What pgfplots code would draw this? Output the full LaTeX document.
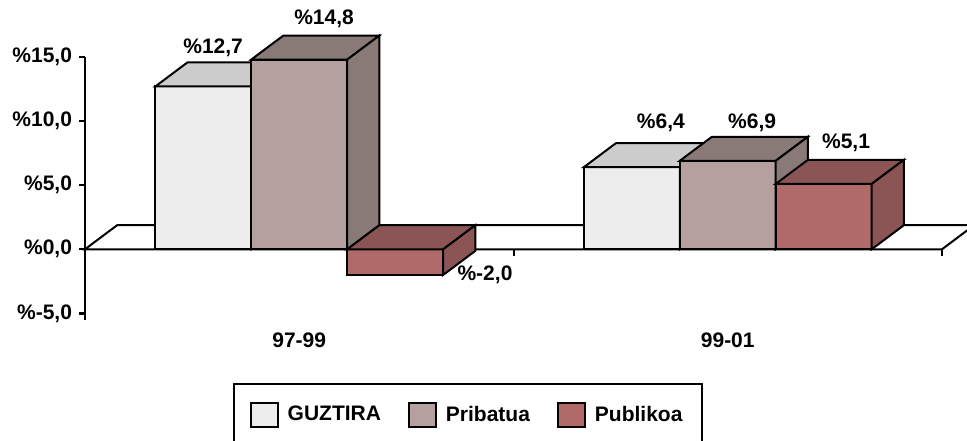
\documentclass[border=0pt]{standalone}
\usepackage{pgfplots}
\pgfplotsset{compat=1.18}
\usepackage{fontspec}
\setmainfont{Liberation Sans}
\definecolor{gF}{HTML}{EDEDED}
\definecolor{gT}{HTML}{CCCCCC}
\definecolor{gS}{HTML}{9A9A9A}
\definecolor{pF}{HTML}{B4A09F}
\definecolor{pT}{HTML}{8A7A77}
\definecolor{uF}{HTML}{B06A6A}
\definecolor{uT}{HTML}{8B5555}
\newcommand{\lf}{\bfseries\fontsize{10.5bp}{12.6bp}\selectfont}
\pgfplotsset{
  face/.style={draw=black, line width=1bp, line join=miter, forget plot},
  front/.style={ybar, bar width=0.224, draw=black, line width=1bp, forget plot},
}
\begin{document}
\begin{tikzpicture}
\begin{axis}[
  at={(0,0)}, anchor=south west,
  scale only axis, width=428.5bp, height=131.5bp,
  xmin=-0.5, xmax=1.5, ymin=-5.52, ymax=15,
  clip=false,
  axis x line*=bottom, axis y line*=left,
  x axis line style={draw=none},
  y axis line style={line width=1.2bp},
  xtick={0,1}, xticklabels={97-99,99-01},
  major x tick style={draw=none},
  ytick={-5,0,5,10,15},
  yticklabels={{\%-5,0},{\%0,0},{\%5,0},{\%10,0},{\%15,0}},
  tick align=outside, major tick length=3bp,
  major y tick style={line width=1.2bp, black},
  ticklabel style={font=\lf},
  legend style={at={(0.447,-0.2395)}, anchor=north, legend columns=3,
    draw=black, line width=1bp, font=\lf, inner xsep=8bp, inner ysep=9bp,
    /tikz/every odd column/.append style={column sep=2.5bp},
    /tikz/every even column/.append style={column sep=11.5bp}},
  legend image code/.code={\draw[#1] (0bp,-6bp) rectangle (13.5bp,6bp);},
]
% floor
\addplot[face, fill=white] coordinates {(-0.5,0) (-0.425,1.875) (1.575,1.875) (1.5,0)} --cycle;
% GUZTIRA
\addplot[front, fill=gF, bar shift=-0.224] coordinates {(0,12.7) (1,6.4)};
\addplot[face, fill=gT] coordinates {(-0.336,12.7) (-0.261,14.575) (-0.037,14.575) (-0.112,12.7)} --cycle;
\addplot[face, fill=gS] coordinates {(-0.112,0) (-0.037,1.875) (-0.037,14.575) (-0.112,12.7)} --cycle;
\addplot[face, fill=gT] coordinates {(0.664,6.4) (0.739,8.275) (0.963,8.275) (0.888,6.4)} --cycle;
\addplot[face, fill=gS] coordinates {(0.888,0) (0.963,1.875) (0.963,8.275) (0.888,6.4)} --cycle;
% Pribatua
\addplot[front, fill=pF, bar shift=0] coordinates {(0,14.8) (1,6.9)};
\addplot[face, fill=pT] coordinates {(-0.112,14.8) (-0.037,16.675) (0.187,16.675) (0.112,14.8)} --cycle;
\addplot[face, fill=pT] coordinates {(0.112,0) (0.187,1.875) (0.187,16.675) (0.112,14.8)} --cycle;
\addplot[face, fill=pT] coordinates {(0.888,6.9) (0.963,8.775) (1.187,8.775) (1.112,6.9)} --cycle;
\addplot[face, fill=pT] coordinates {(1.112,0) (1.187,1.875) (1.187,8.775) (1.112,6.9)} --cycle;
% Publikoa
\addplot[front, fill=uF, bar shift=0.224] coordinates {(0,-2.0) (1,5.1)};
\addplot[face, fill=uT] coordinates {(0.112,0) (0.187,1.875) (0.411,1.875) (0.336,0)} --cycle;
\addplot[face, fill=uT] coordinates {(0.336,-2) (0.411,-0.125) (0.411,1.875) (0.336,0)} --cycle;
\addplot[face, fill=uT] coordinates {(1.112,5.1) (1.187,6.975) (1.411,6.975) (1.336,5.1)} --cycle;
\addplot[face, fill=uT] coordinates {(1.336,0) (1.411,1.875) (1.411,6.975) (1.336,5.1)} --cycle;
% value labels
\addplot[only marks, mark=*, mark size=0pt, mark options={draw=none, fill=none},
  nodes near coords, point meta=explicit symbolic,
  nodes near coords style={anchor=center, font=\lf, text=black}, forget plot]
  coordinates {(-0.201,15.75) [\%12,7] (0.058,18.0) [\%14,8] (0.4335,-2.0) [\%-2,0]
               (0.844,9.87) [\%6,4] (1.057,9.87) [\%6,9] (1.276,8.3) [\%5,1]};
% floor ticks
\draw[line width=1bp] (axis cs:0.5,0) -- (axis cs:0.5,-0.55);
\draw[line width=1bp] (axis cs:1.5,0) -- (axis cs:1.5,-0.55);
% legend
\addlegendimage{fill=gF, draw=black, line width=1bp}
\addlegendentry{GUZTIRA}
\addlegendimage{fill=pF, draw=black, line width=1bp}
\addlegendentry{Pribatua}
\addlegendimage{fill=uF, draw=black, line width=1bp}
\addlegendentry{Publikoa}
\end{axis}
\pgfresetboundingbox
\useasboundingbox (-42.5bp,-60.5bp) rectangle (441bp,160bp);
\end{tikzpicture}
\end{document}
